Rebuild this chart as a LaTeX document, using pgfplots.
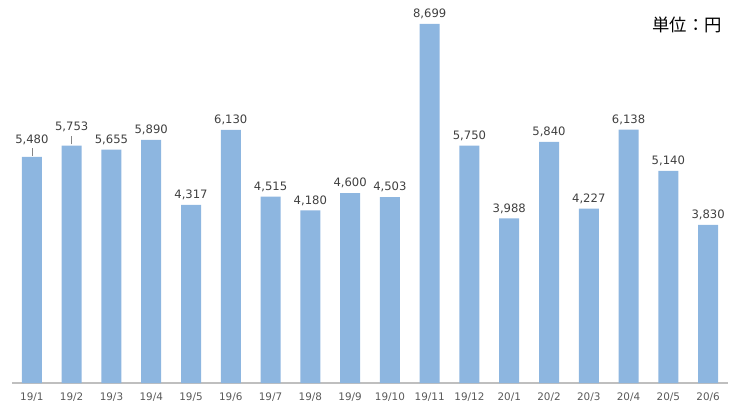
\documentclass[border=0pt]{standalone}
\usepackage{fontspec}
\setmainfont{DejaVu Sans}
\newfontfamily\jp{Noto Sans CJK JP}
\usepackage{pgfplots}
\pgfplotsset{compat=1.18}
\definecolor{barblue}{RGB}{141,182,224}
\definecolor{lblgray}{RGB}{64,64,64}
\definecolor{tickgray}{RGB}{89,89,89}
\definecolor{axgray}{RGB}{191,191,191}
\begin{document}
\begin{tikzpicture}
\useasboundingbox (0,0) rectangle (556.5pt,305.25pt);
\begin{axis}[
  at={(9pt,18pt)}, anchor=south west,
  scale only axis, width=537pt, height=287.25pt,
  xmin=-0.5, xmax=17.5, ymin=0, ymax=9280,
  axis y line=none,
  axis x line*=bottom,
  x axis line style={draw=axgray, line width=0.8pt, -},
  xtick={0,...,17},
  xticklabels={19/1,19/2,19/3,19/4,19/5,19/6,19/7,19/8,19/9,19/10,19/11,19/12,20/1,20/2,20/3,20/4,20/5,20/6},
  major tick length=0pt,
  xticklabel style={font=\fontsize{7.8}{9}\selectfont, text=tickgray, inner sep=0pt, yshift=-7pt},
  ybar, bar width=15pt,
  clip=false,
  /pgf/number format/assume math mode=true,
  /pgf/number format/1000 sep={,},
  nodes near coords style={font=\fontsize{8.7}{10}\selectfont, text=lblgray, inner sep=0pt, anchor=south},
]
\addplot[fill=barblue, draw=none, bar shift=0pt] coordinates {
(0,5480) (1,5753) (2,5655) (3,5890) (4,4317) (5,6130) (6,4515) (7,4180) (8,4600)
(9,4503) (10,8699) (11,5750) (12,3988) (13,5840) (14,4227) (15,6138) (16,5140) (17,3830)};
\addplot[draw=none, fill=none, bar shift=0pt, forget plot,
  nodes near coords, nodes near coords style={yshift=3.5pt}] coordinates {
(2,5655) (3,5890) (4,4317) (5,6130) (6,4515) (7,4180) (8,4600)
(9,4503) (10,8699) (11,5750) (12,3988) (13,5840) (14,4227) (15,6138) (16,5140) (17,3830)};
\addplot[draw=none, fill=none, bar shift=0pt, forget plot,
  nodes near coords, nodes near coords style={yshift=9pt}] coordinates {(0,5480)};
\addplot[draw=none, fill=none, bar shift=0pt, forget plot,
  nodes near coords, nodes near coords style={yshift=10pt}] coordinates {(1,5753)};
\draw[axgray!70!black, line width=0.5pt] ([yshift=0.8pt]axis cs:0,5480) -- ([yshift=6.5pt]axis cs:0,5480);
\draw[axgray!70!black, line width=0.5pt] ([yshift=0.8pt]axis cs:1,5753) -- ([yshift=7.5pt]axis cs:1,5753);
\node[font=\jp\fontsize{13}{15}\selectfont, text=black] at (rel axis cs:0.943,0.935) {単位：円};
\end{axis}
\end{tikzpicture}
\end{document}
